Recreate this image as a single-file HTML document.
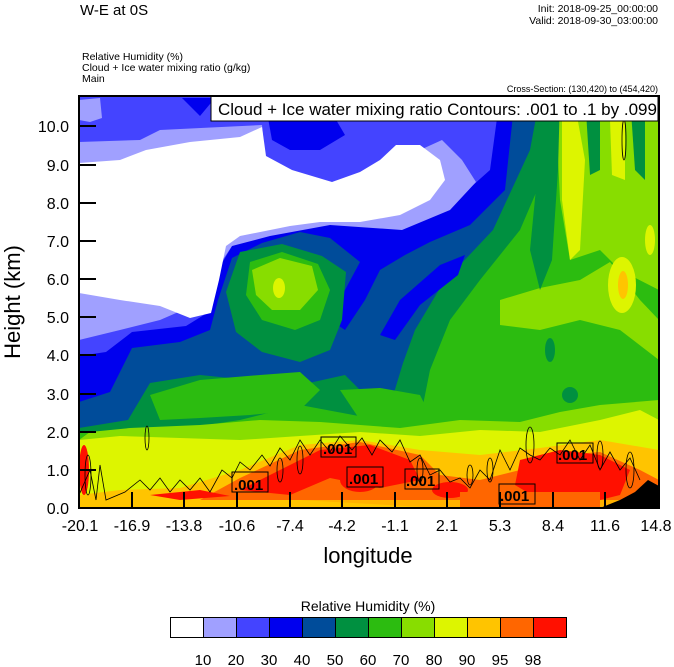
<!DOCTYPE html>
<html><head><meta charset="utf-8"><style>
body{margin:0;background:#fff;width:674px;height:667px;overflow:hidden;font-family:"Liberation Sans",sans-serif}
svg{position:absolute;left:0;top:0}
</style></head><body>
<svg width="674" height="667" viewBox="0 0 674 667" font-family="Liberation Sans, sans-serif">
<defs><clipPath id="c"><rect x="79" y="96" width="580" height="412"/></clipPath></defs>
<text x="80" y="15" font-size="15">W-E at 0S</text>
<text x="658" y="12" font-size="10.5" text-anchor="end">Init: 2018-09-25_00:00:00</text>
<text x="658" y="24" font-size="10.5" text-anchor="end">Valid: 2018-09-30_03:00:00</text>
<text x="82" y="60" font-size="10.5">Relative Humidity   (%)</text>
<text x="82" y="71" font-size="10.5">Cloud + Ice water mixing ratio   (g/kg)</text>
<text x="82" y="82" font-size="10.5">Main</text>
<text x="658" y="92" font-size="9" text-anchor="end">Cross-Section: (130,420) to (454,420)</text>
<g clip-path="url(#c)">
<rect x="79" y="96" width="580" height="412" fill="#2cbc10"/>
<!-- right lime region -->
<polygon fill="#88dd00" points="555,96 659,96 659,290 620,270 600,250 570,260 560,200" />
<polygon fill="#88dd00" points="500,300 540,288 580,280 610,262 640,300 659,320 659,360 620,330 580,320 540,330 500,325" />
<polygon fill="#009040" points="545,96 560,96 558,170 552,260 540,290 530,250" />
<polygon fill="#009040" points="585,96 600,96 600,170 590,175" />
<polygon fill="#009040" points="630,96 645,96 645,180 635,170" />
<polygon fill="#ddf500" points="562,110 575,105 585,160 580,250 570,260 562,200" />
<polygon fill="#ddf500" points="610,120 625,120 625,180 612,175" />
<ellipse cx="622" cy="285" rx="14" ry="28" fill="#ddf500"/>
<ellipse cx="623" cy="285" rx="5" ry="14" fill="#ffc400"/>
<ellipse cx="650" cy="240" rx="5" ry="15" fill="#ddf500"/>
<ellipse cx="550" cy="350" rx="5" ry="12" fill="#009040"/>
<ellipse cx="570" cy="395" rx="8" ry="8" fill="#009040"/>
<!-- dark green region -->
<polygon fill="#009040" points="79,96 560,96 550,160 520,230 480,280 450,320 430,370 422,410 380,420 300,405 240,420 160,432 120,432 79,432"/>
<polygon fill="#004c9a" points="79,96 540,96 530,150 493,230 443,283 415,330 403,363 393,396 370,400 345,375 300,385 250,380 200,375 150,383 128,420 79,428"/>
<polygon fill="#0000ee" points="79,96 515,96 505,190 470,225 430,242 405,255 380,270 365,300 345,330 330,320 345,290 360,262 330,238 300,232 262,243 232,258 218,300 210,330 180,342 132,348 110,392 79,402"/>
<polygon fill="#0000ee" points="380,335 400,300 440,265 465,255 458,275 420,305 395,340"/>
<polygon fill="#4444ff" points="79,96 500,96 490,170 462,195 430,214 360,226 330,222 300,226 262,236 232,246 218,270 212,310 186,326 132,332 106,352 79,356"/>
<polygon fill="#0000ee" points="268,118 300,113 335,118 345,135 320,150 290,150 272,140"/>
<polygon fill="#0000ee" points="182,98 215,98 200,116"/>
<polygon fill="#a0a0ff" points="79,150 79,142 140,140 160,130 262,125 266,168 292,180 340,186 372,175 420,150 442,140 462,160 476,182 450,210 402,230 330,225 270,236 232,246 216,270 206,300 160,320 120,330 79,340"/>
<polygon fill="#a0a0ff" points="79,100 100,98 102,118 90,122 79,120"/>
<polygon fill="#fff" points="79,163 120,160 146,150 190,142 240,137 262,127 266,156 292,170 332,182 360,172 380,160 396,145 420,145 440,160 445,180 430,200 400,215 360,222 320,222 290,226 240,236 226,246 219,280 211,313 190,318 160,306 120,300 79,293"/>
<!-- central blob -->
<polygon fill="#009040" points="240,252 282,244 322,256 346,272 342,320 330,350 300,362 262,352 236,332 226,292"/>
<polygon fill="#2cbc10" points="250,262 282,252 318,264 330,290 320,320 295,330 262,320 246,295"/>
<polygon fill="#88dd00" points="252,270 280,258 312,266 318,290 300,310 272,310 256,295"/>
<ellipse cx="279" cy="288" rx="6" ry="10" fill="#ddf500"/>
<polygon fill="#2cbc10" points="150,395 200,380 260,375 300,372 320,390 300,410 250,415 200,418 160,420"/>
<polygon fill="#2cbc10" points="340,390 380,388 420,395 430,415 400,425 360,420"/>
<!-- low layers -->
<polygon fill="#88dd00" points="79,440 90,432 130,428 200,425 260,420 320,422 400,428 460,420 520,422 560,412 600,405 659,400 659,508 79,508"/>
<polygon fill="#ddf500" points="79,440 120,436 180,438 240,440 300,436 360,432 420,436 480,430 540,432 600,420 640,410 659,420 659,508 79,508"/>
<polygon fill="#ffc400" points="79,495 120,490 180,488 240,470 300,445 360,440 420,450 480,455 540,448 600,440 659,450 659,508 79,508"/>
<polygon fill="#ff6600" points="200,500 240,478 300,450 360,442 420,455 440,475 480,480 520,470 560,455 600,452 640,470 659,480 659,508 440,508 300,500 240,500"/>
<polygon fill="#ff1000" points="240,490 280,470 320,450 370,445 410,460 420,480 380,488 330,478 290,495"/>
<polygon fill="#ff1000" points="520,460 560,450 600,455 630,470 620,495 580,505 540,500 515,485"/>
<polygon fill="#ff1000" points="150,495 200,490 230,496 180,500"/>
<ellipse cx="84" cy="470" rx="5" ry="25" fill="#ff1000"/>
<ellipse cx="360" cy="480" rx="20" ry="12" fill="#ff1000"/>
<ellipse cx="450" cy="490" rx="18" ry="8" fill="#ff1000"/>
<rect x="79" y="500" width="580" height="8" fill="#ffc400" opacity="0.8"/>
<rect x="460" y="492" width="140" height="16" fill="#ff6600"/>
<!-- contours -->
<g fill="none" stroke="#000" stroke-width="0.8">
<polyline points="79,495 90,470 96,500 100,465 106,500 125,492 140,480 150,490 160,478 170,492 180,480 190,490 200,478 210,492 222,470 232,478 240,462 250,470 262,455 270,466 280,448 290,460 300,440 310,455 320,440 330,452 340,436 352,450 362,438 372,455 380,440 392,452 400,440 410,462 420,455 430,475 440,470 450,482 460,478 470,488 480,470 490,480 500,450 510,470 520,448 530,455 540,460 550,448 560,455 570,440 580,460 590,445 600,470 610,452 620,470 630,458 640,480"/>
<ellipse cx="147" cy="438" rx="2" ry="12"/>
<ellipse cx="88" cy="475" rx="3" ry="20"/>
<ellipse cx="624" cy="140" rx="2" ry="20"/>
<ellipse cx="280" cy="470" rx="3" ry="12"/><ellipse cx="300" cy="460" rx="3" ry="14"/>
<ellipse cx="420" cy="470" rx="3" ry="12"/><ellipse cx="470" cy="475" rx="3" ry="10"/>
<ellipse cx="490" cy="470" rx="3" ry="12"/><ellipse cx="530" cy="445" rx="4" ry="18"/>
<ellipse cx="600" cy="455" rx="3" ry="14"/><ellipse cx="630" cy="470" rx="4" ry="18"/>
</g>
<polygon fill="#000" points="600,508 620,500 635,492 648,480 659,486 659,508"/>
</g>
<g stroke="#000" stroke-width="1" fill="none">
<rect x="232" y="472" width="36" height="20"/>
<rect x="321" y="437" width="35" height="20"/>
<rect x="347" y="467" width="36" height="20"/>
<rect x="405" y="469" width="34" height="20"/>
<rect x="499" y="484" width="36" height="20"/>
<rect x="557" y="443" width="36" height="20"/>
</g>
<g font-size="15" fill="#000" font-weight="bold">
<text x="234" y="490">.001</text><text x="323" y="454">.001</text><text x="349" y="484">.001</text>
<text x="406" y="486">.001</text><text x="500" y="501">.001</text><text x="558" y="460">.001</text>
</g>
<rect x="211" y="96" width="447" height="25" fill="#fff" stroke="#000" stroke-width="1"/>
<text x="218" y="115" font-size="17">Cloud + Ice water mixing ratio Contours: .001 to .1 by .099</text>
<rect x="79" y="96" width="580" height="412" fill="none" stroke="#000" stroke-width="2"/>
<g stroke="#000" stroke-width="2">
<line x1="79" y1="508" x2="96" y2="508"/><line x1="79" y1="470" x2="96" y2="470"/><line x1="79" y1="432" x2="96" y2="432"/><line x1="79" y1="394" x2="96" y2="394"/><line x1="79" y1="355" x2="96" y2="355"/><line x1="79" y1="317" x2="96" y2="317"/><line x1="79" y1="279" x2="96" y2="279"/><line x1="79" y1="241" x2="96" y2="241"/><line x1="79" y1="203" x2="96" y2="203"/><line x1="79" y1="165" x2="96" y2="165"/><line x1="79" y1="126" x2="96" y2="126"/>
<line x1="132" y1="508" x2="132" y2="492"/><line x1="184" y1="508" x2="184" y2="492"/><line x1="237" y1="508" x2="237" y2="492"/><line x1="290" y1="508" x2="290" y2="492"/><line x1="342" y1="508" x2="342" y2="492"/><line x1="395" y1="508" x2="395" y2="492"/><line x1="447" y1="508" x2="447" y2="492"/><line x1="500" y1="508" x2="500" y2="492"/><line x1="553" y1="508" x2="553" y2="492"/><line x1="605" y1="508" x2="605" y2="492"/>
</g>
<g font-size="16" text-anchor="end">
<text x="69" y="514">0.0</text><text x="69" y="476">1.0</text><text x="69" y="438">2.0</text><text x="69" y="400">3.0</text><text x="69" y="361">4.0</text><text x="69" y="323">5.0</text><text x="69" y="285">6.0</text><text x="69" y="247">7.0</text><text x="69" y="209">8.0</text><text x="69" y="171">9.0</text><text x="69" y="132">10.0</text>
</g>
<g font-size="16" text-anchor="middle">
<text x="80" y="531">-20.1</text><text x="132" y="531">-16.9</text><text x="184" y="531">-13.8</text><text x="237" y="531">-10.6</text><text x="290" y="531">-7.4</text><text x="342" y="531">-4.2</text><text x="395" y="531">-1.1</text><text x="447" y="531">2.1</text><text x="500" y="531">5.3</text><text x="553" y="531">8.4</text><text x="605" y="531">11.6</text><text x="656" y="531">14.8</text>
</g>
<text x="368" y="563" font-size="22" text-anchor="middle">longitude</text>
<text transform="translate(20,302) rotate(-90)" font-size="22" text-anchor="middle">Height (km)</text>
<text x="368" y="611" font-size="14" text-anchor="middle">Relative Humidity  (%)</text>
<g stroke="#000" stroke-width="1">
<rect x="170.5" y="617.5" width="33" height="20" fill="#fff"/>
<rect x="203.5" y="617.5" width="33" height="20" fill="#a0a0ff"/>
<rect x="236.5" y="617.5" width="33" height="20" fill="#4444ff"/>
<rect x="269.5" y="617.5" width="33" height="20" fill="#0000ee"/>
<rect x="302.5" y="617.5" width="33" height="20" fill="#004c9a"/>
<rect x="335.5" y="617.5" width="33" height="20" fill="#009040"/>
<rect x="368.5" y="617.5" width="33" height="20" fill="#2cbc10"/>
<rect x="401.5" y="617.5" width="33" height="20" fill="#88dd00"/>
<rect x="434.5" y="617.5" width="33" height="20" fill="#ddf500"/>
<rect x="467.5" y="617.5" width="33" height="20" fill="#ffc400"/>
<rect x="500.5" y="617.5" width="33" height="20" fill="#ff6600"/>
<rect x="533.5" y="617.5" width="33" height="20" fill="#ff1000"/>
</g>
<g font-size="15" text-anchor="middle">
<text x="203" y="665">10</text><text x="236" y="665">20</text><text x="269" y="665">30</text><text x="302" y="665">40</text><text x="335" y="665">50</text><text x="368" y="665">60</text><text x="401" y="665">70</text><text x="434" y="665">80</text><text x="467" y="665">90</text><text x="500" y="665">95</text><text x="533" y="665">98</text>
</g>
</svg>
</body></html>
